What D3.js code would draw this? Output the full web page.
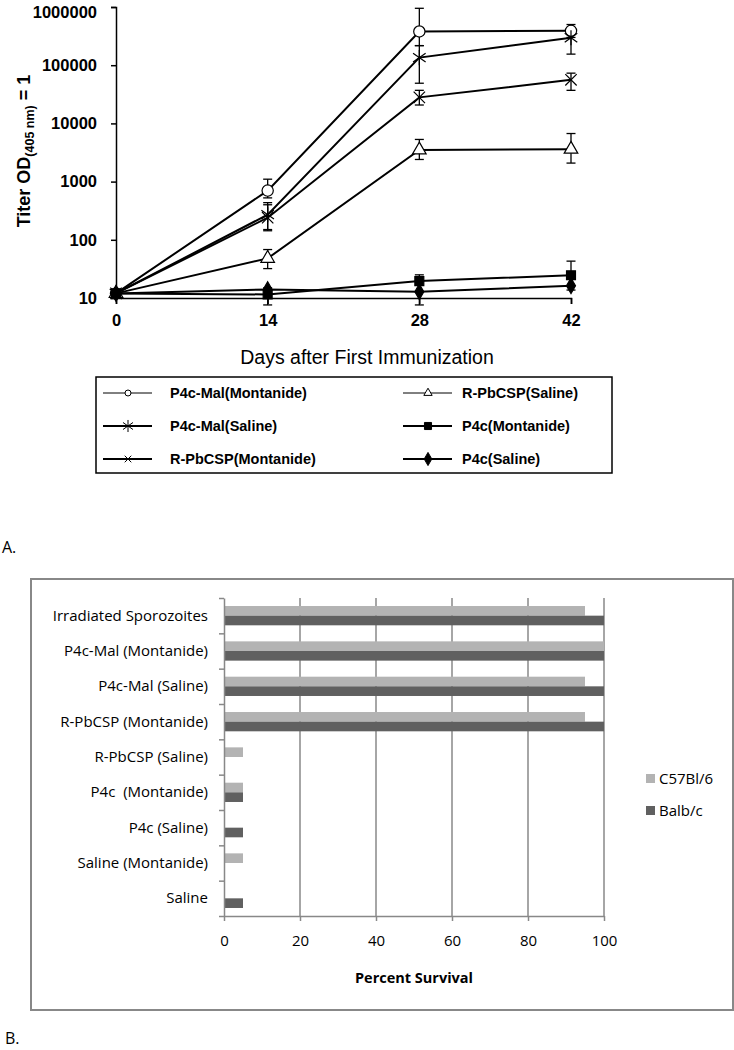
<!DOCTYPE html>
<html lang="en">
<head>
<meta charset="UTF-8">
<title>Titer and survival</title>
<script src="https://cdn.jsdelivr.net/npm/d3@7"></script>
<style>
  body { margin: 0; background: #fff; }
  .panelA text { font-family: "Liberation Sans", Arial, sans-serif; fill: #000; }
  .panelB text { font-family: "Open Sans", sans-serif; fill: #000; }
  .axis path, .axis line { fill: none; }
</style>
</head>
<body>
<script>
// ---- panel A data ----
var days = [0, 14, 28, 42];
var seriesNames = ["P4c-Mal(Montanide)", "P4c-Mal(Saline)", "R-PbCSP(Montanide)",
                   "R-PbCSP(Saline)", "P4c(Montanide)", "P4c(Saline)"];
var malMont    = [12, 700, 380000, 390000];
var malMontHi  = [null, 1100, 950000, 500000];
var malMontLo  = [null, 525, 217000, 300000];
var malSal     = [12, 270, 135000, 296000];
var malSalHi   = [null, 435, 217000, 430000];
var malSalLo   = [null, 143, 49000, 155000];
var rpbMont    = [12, 240, 28000, 56000];
var rpbMontHi  = [null, 400, 37000, 73000];
var rpbMontLo  = [null, 150, 20700, 37000];
var rpbSal     = [12, 48, 3500, 3600];
var rpbSalHi   = [null, 68, 5300, 6700];
var rpbSalLo   = [null, 32, 2400, 2080];
var p4cMont    = [12, 11.5, 19.5, 24.6];
var p4cMontHi  = [null, 15, 25, 43];
var p4cMontLo  = [null, 7.6, 7.6, 13.7];
var p4cSal     = [12, 14, 12.8, 16.2];
var yTicks = [10, 100, 1000, 10000, 100000, 1000000];

// ---- panel B data ----
var groups = ["Irradiated Sporozoites", "P4c-Mal (Montanide)", "P4c-Mal (Saline)",
              "R-PbCSP (Montanide)", "R-PbCSP (Saline)", "P4c  (Montanide)",
              "P4c (Saline)", "Saline (Montanide)", "Saline"];
var strains = ["C57Bl/6", "Balb/c"];
var c57 = [95, 100, 95, 95, 5, 5, 0, 5, 0];
var balb = [100, 100, 100, 100, 0, 5, 5, 0, 5];
var xTicksB = [0, 20, 40, 60, 80, 100];

var svg = d3.select("body").append("svg")
  .attr("width", 734).attr("height", 1050);

// ================= panel A =================
var pa = svg.append("g").attr("class", "panelA");

var x = d3.scaleLinear().domain([0, 42]).range([116, 571]);
var y = d3.scaleLog().domain([10, 1000000]).range([298, 7]);

var yAxis = d3.axisLeft(y).tickValues(yTicks).tickFormat(d3.format("d"))
  .tickSize(5).tickPadding(14);
var xAxis = d3.axisBottom(x).tickValues(days).tickSize(6).tickPadding(10);

var ga = pa.append("g").attr("class", "axis").attr("transform", "translate(116,0)").call(yAxis);
ga.select(".domain").attr("stroke", "#000").attr("stroke-width", 1.5);
ga.selectAll("line").attr("stroke", "#000").attr("stroke-width", 1.5);
ga.selectAll("text").attr("font-size", 16.5).attr("font-weight", "bold")
  .style("font-family", "'Liberation Sans', Arial, sans-serif");
// keep the top label inside the page
ga.selectAll("text").filter(function(d) { return d === 1000000; }).attr("dy", "0.62em");

var gx = pa.append("g").attr("class", "axis").attr("transform", "translate(0,298)").call(xAxis);
gx.select(".domain").attr("stroke", "#000").attr("stroke-width", 1.5);
gx.selectAll("line").attr("stroke", "#000").attr("stroke-width", 1.5);
gx.selectAll("text").attr("font-size", 16.5).attr("font-weight", "bold")
  .style("font-family", "'Liberation Sans', Arial, sans-serif");

// y title
var yt = pa.append("text")
  .attr("transform", "translate(30,151) rotate(-90)")
  .attr("text-anchor", "middle")
  .attr("font-size", 18).attr("font-weight", "bold");
yt.append("tspan").text("Titer OD");
yt.append("tspan").attr("font-size", 12.5).attr("dy", 4).text("(405 nm)");
yt.append("tspan").attr("dy", -4).text(" = 1");

pa.append("text").attr("x", 367).attr("y", 364)
  .attr("text-anchor", "middle").attr("font-size", 19.5)
  .text("Days after First Immunization");

function markerPath(kind, size) {
  if (kind === "circle") return d3.symbol(d3.symbolCircle, size)();
  if (kind === "triangle") return d3.symbol(d3.symbolTriangle, size)();
  if (kind === "square") return d3.symbol(d3.symbolSquare, size)();
  if (kind === "diamond") return d3.symbol(d3.symbolDiamond, size)();
  var r = Math.sqrt(size) * 0.6;
  if (kind === "x") {
    return "M" + (-r) + "," + (-r) + "L" + r + "," + r + "M" + (-r) + "," + r + "L" + r + "," + (-r);
  }
  // asterisk: vertical stroke plus an x
  var a = r * 1.2;
  return "M0," + (-a) + "L0," + a +
         "M" + (-r) + "," + (-r * 0.7) + "L" + r + "," + (r * 0.7) +
         "M" + (-r) + "," + (r * 0.7) + "L" + r + "," + (-r * 0.7);
}

var series = [
  { name: seriesNames[0], v: malMont, hi: malMontHi, lo: malMontLo, m: "circle", fill: "#fff", size: 100 },
  { name: seriesNames[1], v: malSal, hi: malSalHi, lo: malSalLo, m: "asterisk", fill: "none", size: 110 },
  { name: seriesNames[2], v: rpbMont, hi: rpbMontHi, lo: rpbMontLo, m: "x", fill: "none", size: 90 },
  { name: seriesNames[3], v: rpbSal, hi: rpbSalHi, lo: rpbSalLo, m: "triangle", fill: "#fff", size: 80 },
  { name: seriesNames[4], v: p4cMont, hi: p4cMontHi, lo: p4cMontLo, m: "square", fill: "#000", size: 80 },
  { name: seriesNames[5], v: p4cSal, hi: null, lo: null, m: "diamond", fill: "#000", size: 70 }
];

var line = d3.line().x(function(d, i) { return x(days[i]); }).y(function(d) { return y(d); });

series.forEach(function(s) {
  pa.append("path").attr("d", line(s.v))
    .attr("fill", "none").attr("stroke", "#000").attr("stroke-width", 2);
});

// error bars
series.forEach(function(s) {
  if (!s.hi) return;
  days.forEach(function(d, i) {
    if (s.hi[i] == null) return;
    var cx = x(d), y1 = y(s.hi[i]), y2 = y(s.lo[i]);
    pa.append("line").attr("x1", cx).attr("x2", cx).attr("y1", y1).attr("y2", y2)
      .attr("stroke", "#000").attr("stroke-width", 1.3);
    [y1, y2].forEach(function(yy) {
      pa.append("line").attr("x1", cx - 4.5).attr("x2", cx + 4.5).attr("y1", yy).attr("y2", yy)
        .attr("stroke", "#000").attr("stroke-width", 1.3);
    });
  });
});

// markers
series.forEach(function(s) {
  pa.selectAll(null).data(s.v).enter().append("path")
    .attr("transform", function(d, i) { return "translate(" + x(days[i]) + "," + y(d) + ")"; })
    .attr("d", markerPath(s.m, s.size))
    .attr("fill", s.fill).attr("stroke", "#000").attr("stroke-width", 1.2);
});

// legend
var leg = pa.append("g");
leg.append("rect").attr("x", 96).attr("y", 377).attr("width", 516).attr("height", 96)
  .attr("fill", "none").attr("stroke", "#000").attr("stroke-width", 1.5);
var legSizes = [28, 70, 30, 30, 50, 50];
series.forEach(function(s, i) {
  var col = Math.floor(i / 3), row = i % 3;
  var lx = col === 0 ? 103 : 403, cy = 393 + row * 33;
  var thin = (s.m === "circle" || s.m === "triangle");
  leg.append("line").attr("x1", lx).attr("x2", lx + 49).attr("y1", cy).attr("y2", cy)
    .attr("stroke", "#000").attr("stroke-width", thin ? 1 : 1.8);
  leg.append("path").attr("transform", "translate(" + (lx + 25) + "," + cy + ")")
    .attr("d", markerPath(s.m, legSizes[i]))
    .attr("fill", s.fill).attr("stroke", "#000").attr("stroke-width", 1);
  leg.append("text").attr("x", col === 0 ? 170 : 462).attr("y", cy + 5)
    .attr("font-size", 14.5).attr("font-weight", "bold").text(s.name);
});

svg.append("text").attr("x", 2).attr("y", 553).attr("font-size", 16)
  .style("font-family", "'Open Sans', sans-serif").text("A.");

// ================= panel B =================
var pb = svg.append("g").attr("class", "panelB");
pb.append("rect").attr("x", 31).attr("y", 579).attr("width", 702).attr("height", 431)
  .attr("fill", "#fff").attr("stroke", "#888").attr("stroke-width", 2);

var xb = d3.scaleLinear().domain([0, 100]).range([224, 604]);
var yb = d3.scaleBand().domain(groups).range([598, 916]).paddingInner(0.454).paddingOuter(0.227);
var ys = d3.scaleBand().domain(strains).range([0, yb.bandwidth()]);
var colors = { "C57Bl/6": "#b3b3b3", "Balb/c": "#606060" };

// gridlines
pb.selectAll(null).data(xTicksB.slice(1)).enter().append("line")
  .attr("x1", function(d) { return xb(d); }).attr("x2", function(d) { return xb(d); })
  .attr("y1", 598).attr("y2", 916).attr("stroke", "#888").attr("stroke-width", 1.5);

var rows = groups.map(function(g, i) { return { g: g, vals: [c57[i], balb[i]] }; });
pb.selectAll(null).data(rows).enter().append("g")
  .attr("transform", function(d) { return "translate(0," + yb(d.g) + ")"; })
  .selectAll("rect").data(function(d) { return d.vals.map(function(v, j) { return { s: strains[j], v: v }; }); })
  .enter().append("rect")
  .attr("x", xb(0)).attr("y", function(d) { return ys(d.s); })
  .attr("width", function(d) { return xb(d.v) - xb(0); })
  .attr("height", ys.bandwidth())
  .attr("fill", function(d) { return colors[d.s]; });

// category axis with ticks at the boundaries
var yEdge = d3.scaleLinear().domain([0, groups.length]).range([916, 598]);
var gl = pb.append("g").attr("class", "axis").attr("transform", "translate(224,0)")
  .call(d3.axisLeft(yEdge).ticks(groups.length).tickSize(5).tickSizeOuter(0).tickFormat(""));
gl.selectAll("path, line").attr("stroke", "#888").attr("stroke-width", 1.5);

pb.selectAll(null).data(groups).enter().append("text")
  .attr("x", 208).attr("y", function(d) { return yb(d) + yb.bandwidth() / 2 + 5; })
  .attr("text-anchor", "end").attr("font-size", 15)
  .style("white-space", "pre").text(function(d) { return d; });

var gb = pb.append("g").attr("class", "axis").attr("transform", "translate(0,916)")
  .call(d3.axisBottom(xb).tickValues(xTicksB).tickSize(5).tickSizeOuter(0).tickPadding(14));
gb.selectAll("path, line").attr("stroke", "#888").attr("stroke-width", 1.5);
gb.selectAll("text").attr("font-size", 15).attr("fill", "#000")
  .style("font-family", "'Open Sans', sans-serif");

pb.append("text").attr("x", 414).attr("y", 983).attr("text-anchor", "middle")
  .attr("font-size", 14.5).attr("font-weight", "bold").text("Percent Survival");

strains.forEach(function(s, i) {
  var cy = 779 + i * 32;
  pb.append("rect").attr("x", 646).attr("y", cy - 5).attr("width", 9).attr("height", 9)
    .attr("fill", colors[s]);
  pb.append("text").attr("x", 659).attr("y", cy + 5).attr("font-size", 15).text(s);
});

svg.append("text").attr("x", 5).attr("y", 1044).attr("font-size", 16)
  .style("font-family", "'Open Sans', sans-serif").text("B.");
</script>
</body>
</html>
